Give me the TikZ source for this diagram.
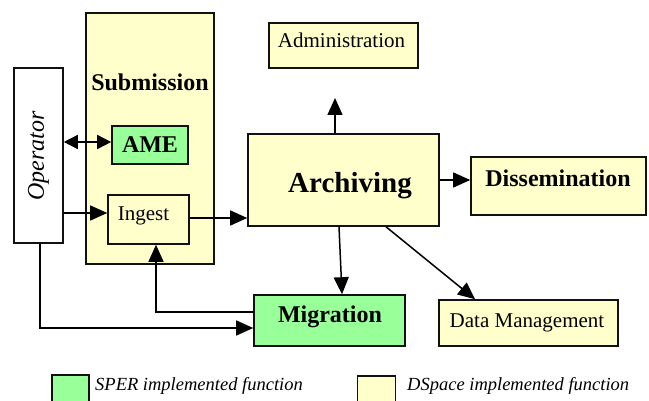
\documentclass[tikz,border=0pt]{standalone}
\usepackage{fontspec}
\setmainfont{Liberation Serif}
\usetikzlibrary{arrows.meta}
\definecolor{yel}{HTML}{FFFFCC}
\definecolor{grn}{HTML}{99FF99}
\definecolor{edge}{HTML}{111111}
\tikzset{
  box/.style={draw=edge, line width=1.6pt, rectangle, inner sep=0pt},
  ybox/.style={box, fill=yel},
  gbox/.style={box, fill=grn},
  boldtxt/.style={anchor=base, inner sep=0pt, font=\fontsize{24}{28}\selectfont\bfseries},
  regtxt/.style={anchor=base, inner sep=0pt, font=\fontsize{21}{25}\selectfont},
  legtxt/.style={anchor=base west, inner sep=0pt, font=\fontsize{18.5}{22}\selectfont\itshape},
  arr/.style={draw=black, line width=1.5pt, -{Triangle[length=17pt,width=15pt]}},
  dbl/.style={draw=black, line width=1.5pt, {Triangle[length=14pt,width=14pt]}-{Triangle[length=14pt,width=14pt]}}
}
\begin{document}
\begin{tikzpicture}[x=1pt,y=-1pt]
\clip (0,0) rectangle (649,401);
\fill[white] (0,0) rectangle (649,401);
% boxes
\node[box, fill=white, minimum width=49pt, minimum height=175pt] (op) at (38.5,155.5) {};
\node[ybox, minimum width=128pt, minimum height=251pt] (sub) at (150,138.5) {};
\node[gbox, minimum width=76pt, minimum height=38pt] (ame) at (150,145) {};
\node[ybox, minimum width=81pt, minimum height=49pt] (ingest) at (148.5,219.5) {};
\node[ybox, minimum width=191pt, minimum height=92pt] (arch) at (343.5,180) {};
\node[ybox, minimum width=149pt, minimum height=45pt] (adm) at (343.5,45.5) {};
\node[ybox, minimum width=175pt, minimum height=58pt] (diss) at (558.5,186) {};
\node[gbox, minimum width=151pt, minimum height=51pt] (mig) at (329.5,320.5) {};
\node[ybox, minimum width=179pt, minimum height=46pt] (dm) at (528.5,323) {};
\node[gbox, minimum width=37pt, minimum height=30pt] (leg1) at (70.5,390) {};
\node[ybox, minimum width=38pt, minimum height=30pt] (leg2) at (376.5,391) {};
% texts
\node[inner sep=0pt, rotate=90, font=\fontsize{24}{28}\selectfont\itshape] (optxt) at (38.5,156) {Operator};
\node[boldtxt] (subtxt) at (150,91) {Submission};
\node[boldtxt] (ametxt) at (150,153) {AME};
\node[regtxt] (ingtxt) at (143.5,221) {Ingest};
\node[boldtxt, font=\fontsize{29}{33}\selectfont\bfseries] (archtxt) at (350,193) {Archiving};
\node[regtxt] (admtxt) at (341.5,48) {Administration};
\node[boldtxt] (disstxt) at (558,187) {Dissemination};
\node[boldtxt] (migtxt) at (330,323) {Migration};
\node[regtxt] (dmtxt) at (527,327) {Data Management};
\node[legtxt] (leg1txt) at (95,391) {SPER implemented function};
\node[legtxt] (leg2txt) at (407,390) {DSpace implemented function};
% connectors
\coordinate (admtip) at (335,98);
\draw[dbl] (op.east |- 0,142) -- (ame.west |- 0,142);
\draw[arr] (op.east |- 0,213) -- (ingest.west |- 0,213);
\draw[arr] (ingest.east |- 0,218) -- (arch.west |- 0,218);
\draw[arr] (mig.west |- 0,312) -| ([xshift=7.5pt]ingest.south);
\draw[arr] ([xshift=1.5pt]op.south) |- (mig.west |- 0,328);
\draw[arr] (arch.north -| admtip) -- (admtip);
\draw[arr] (arch.east |- 0,180) -- (diss.west |- 0,180);
\draw[arr] (arch.south -| 339,0) -- (mig.north -| 342,0);
\draw[arr] (arch.south -| 386,0) -- (dm.north -| 475,0);
\end{tikzpicture}
\end{document}
